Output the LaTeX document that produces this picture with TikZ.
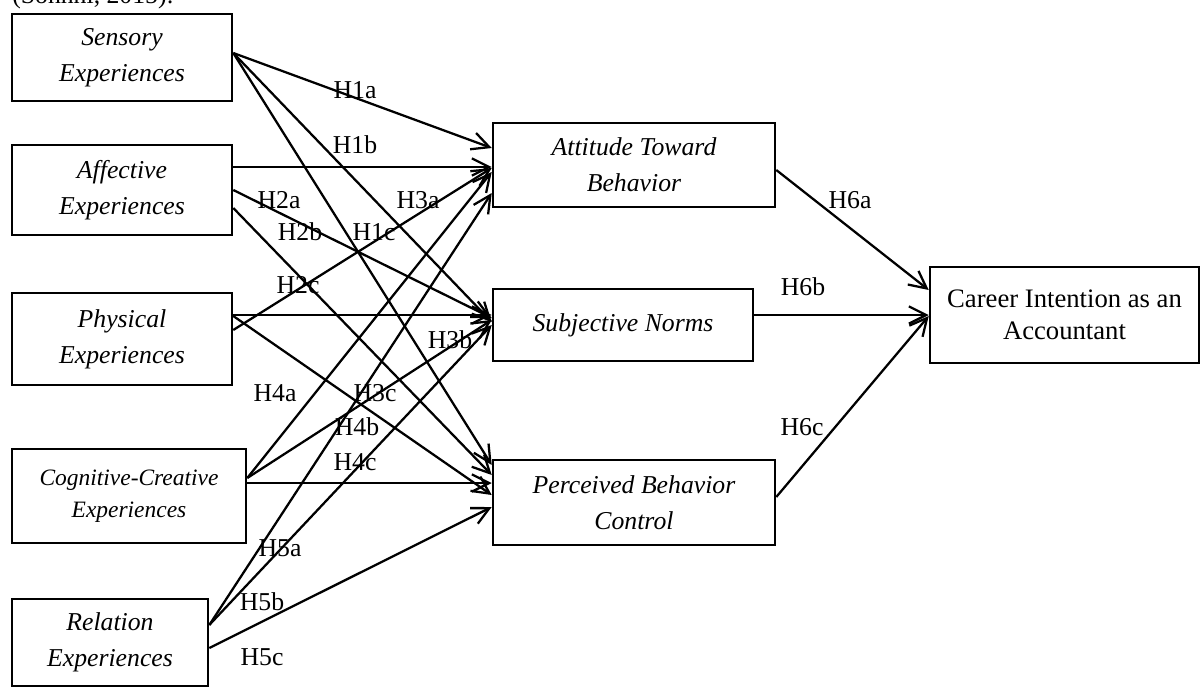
\documentclass[tikz,border=0pt]{standalone}
\usepackage{fontspec}
\setmainfont{Liberation Serif}
\usetikzlibrary{arrows.meta,calc}
\begin{document}
\begin{tikzpicture}[x=0.75pt,y=-0.75pt,
  box/.style={draw,line width=1.9pt,inner sep=0pt,align=center,font=\fontsize{19.3}{27}\selectfont\itshape},
  lab/.style={inner sep=0pt,font=\fontsize{19.3}{23}\selectfont},
  arr/.style={line width=1.7pt,-{Straight Barb[length=13pt,width=13pt,line width=1.7pt]}}]
\useasboundingbox (0,0) rectangle (1202,688);
\node[lab,anchor=base west] (head) at (12,4) {(Sohnni, 2015):};
% sources
\node[box,minimum width=165pt,minimum height=65.25pt] (sens) at (122,57.5) {Sensory\\Experiences};
\node[box,minimum width=165pt,minimum height=67.5pt] (aff) at (122,190) {Affective\\Experiences};
\node[box,minimum width=165pt,minimum height=69pt] (phy) at (122,339) {Physical\\Experiences};
\node[box,minimum width=175.5pt,minimum height=70.5pt,font=\fontsize{17.6}{24}\selectfont\itshape] (cog) at (129,496) {Cognitive-Creative\\Experiences};
\node[box,minimum width=147pt,minimum height=65.25pt] (rel) at (110,642.5) {Relation\\Experiences};
% mediators
\node[box,minimum width=211.5pt,minimum height=63pt] (att) at (634,165) {Attitude Toward\\Behavior};
\node[box,minimum width=195pt,minimum height=54pt] (sub) at (623,325) {Subjective Norms};
\node[box,minimum width=211.5pt,minimum height=63.75pt] (pbc) at (634,502.5) {Perceived Behavior\\Control};
% outcome
\node[box,minimum width=201.75pt,minimum height=72pt,font=\fontsize{20}{24}\selectfont] (car) at (1064.5,315) {Career Intention as an\\Accountant};
% sensory
\draw[arr] ($(sens.east)+(0,-4.5)$) -- ($(att.west)+(0,-17)$);
\draw[arr] ($(sens.east)+(0,-4.5)$) -- ($(sub.west)+(0,-3)$);
\draw[arr] ($(sens.east)+(0,-4.5)$) -- ($(pbc.west)+(0,-37.5)$);
% affective
\draw[arr] ($(aff.east)+(0,-23)$) -- ($(att.west)+(0,2)$);
\draw[arr] ($(aff.east)+(0,0)$) -- ($(sub.west)+(0,-7)$);
\draw[arr] ($(aff.east)+(0,18)$) -- ($(pbc.west)+(0,-27.5)$);
% physical
\draw[arr] ($(phy.east)+(0,-9)$) -- ($(att.west)+(0,3)$);
\draw[arr] ($(phy.east)+(0,-24)$) -- ($(sub.west)+(0,-10)$);
\draw[arr] ($(phy.east)+(0,-23)$) -- ($(pbc.west)+(0,-7.5)$);
% cognitive
\draw[arr] ($(cog.east)+(0,-18)$) -- ($(att.west)+(0,7)$);
\draw[arr] ($(cog.east)+(0,-18)$) -- ($(sub.west)+(0,-5)$);
\draw[arr] ($(cog.east)+(0,-13)$) -- ($(pbc.west)+(0,-19.5)$);
% relation
\draw[arr] ($(rel.east)+(0,-17.5)$) -- ($(att.west)+(0,28)$);
\draw[arr] ($(rel.east)+(0,-17.5)$) -- ($(sub.west)+(0,0)$);
\draw[arr] ($(rel.east)+(0,5.5)$) -- ($(pbc.west)+(0,4.5)$);
% to outcome
\draw[arr] ($(att.east)+(0,5)$) -- ($(car.west)+(0,-25)$);
\draw[arr] ($(sub.east)+(0,-10)$) -- ($(car.west)+(0,0)$);
\draw[arr] ($(pbc.east)+(0,-5.5)$) -- ($(car.west)+(0,1)$);
% labels
\node[lab] (l1a) at (355,90) {H1a};
\node[lab] (l1b) at (355,145) {H1b};
\node[lab] (l2a) at (279,200) {H2a};
\node[lab] (l3a) at (418,200) {H3a};
\node[lab] (l2b) at (300,232) {H2b};
\node[lab] (l1c) at (374,232) {H1c};
\node[lab] (l2c) at (298,285) {H2c};
\node[lab] (l3b) at (450,340) {H3b};
\node[lab] (l4a) at (275,393) {H4a};
\node[lab] (l3c) at (375,393) {H3c};
\node[lab] (l4b) at (357,427) {H4b};
\node[lab] (l4c) at (355,462) {H4c};
\node[lab] (l5a) at (280,548) {H5a};
\node[lab] (l5b) at (262,602) {H5b};
\node[lab] (l5c) at (262,657) {H5c};
\node[lab] (l6a) at (850,200) {H6a};
\node[lab] (l6b) at (803,287) {H6b};
\node[lab] (l6c) at (802,427) {H6c};
\end{tikzpicture}
\end{document}
